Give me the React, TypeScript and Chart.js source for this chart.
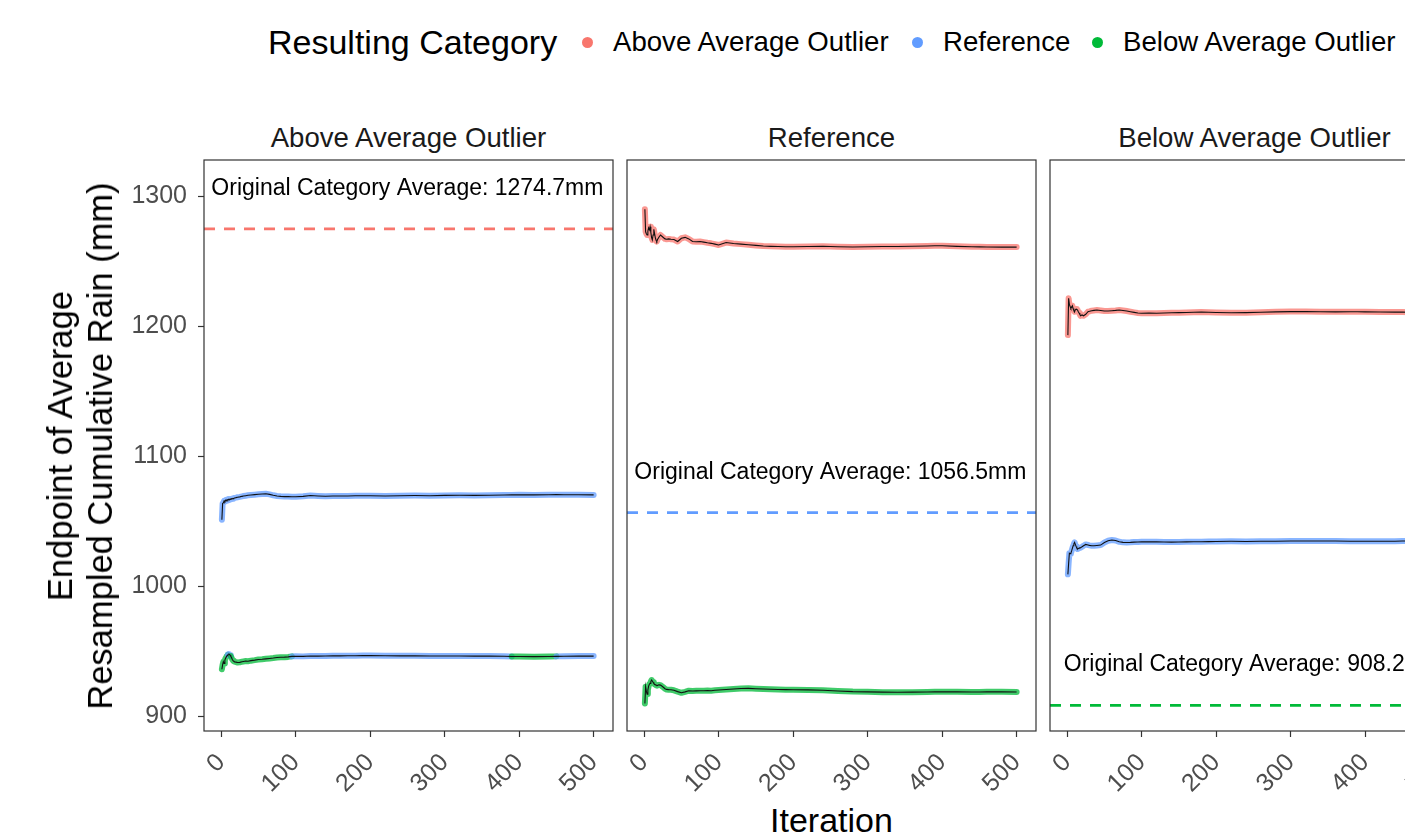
import React, { useEffect, useRef } from "react";
import { Chart, registerables } from "chart.js";

Chart.register(...registerables);

const FONT = '"Liberation Sans", Arial, Helvetica, sans-serif';

// ---------- data ----------
const CATEGORIES = ["Above Average Outlier", "Reference", "Below Average Outlier"];
const CATEGORY_COLORS = ["#F8766D", "#619CFF", "#00BA38"];
const CATEGORY_AVERAGES = [1274.7, 1056.5, 908.2];
const X_TICKS = [0, 100, 200, 300, 400, 500];
const Y_TICKS = [900, 1000, 1100, 1200, 1300];

const ITERATIONS = [
  1, 2, 3, 4, 5, 6, 7, 8, 9, 10, 11, 12, 13, 14, 15, 16, 17, 18, 20, 22, 25, 28, 30, 33, 36, 40, 45,
  50, 55, 60, 65, 70, 75, 80, 85, 90, 95, 100, 110, 120, 130, 140, 150, 160, 170, 180, 190, 200,
  220, 240, 260, 280, 300, 320, 340, 360, 380, 390, 400, 420, 440, 450, 460, 480, 500,
];

// Facet "Above Average Outlier"
const P1_UPPER = [
  1051, 1063.6, 1064, 1065.5, 1064.8, 1066, 1065.5, 1066.5, 1066, 1066.8, 1066.3, 1067, 1066.8,
  1067.2, 1067, 1067.5, 1067.3, 1067.8, 1068, 1068.3, 1068.6, 1069, 1069.2, 1069.5, 1069.8, 1070,
  1070.3, 1070.6, 1070.8, 1071, 1070.5, 1069.8, 1069.3, 1069, 1068.8, 1068.9, 1068.7, 1068.7, 1069,
  1069.6, 1069.3, 1069.1, 1069.2, 1069.3, 1069.2, 1069.4, 1069.5, 1069.4, 1069.3, 1069.5, 1069.6,
  1069.5, 1069.7, 1069.8, 1069.7, 1069.8, 1070, 1070.1, 1070.2, 1070.1, 1070.2, 1070.3, 1070.2,
  1070.2, 1070.1,
];
const P1_UPPER_CAT = 1;
const P1_LOWER = [
  936, 939.5, 941.8, 940.5, 943, 944.5, 945.5, 946.5, 947.2, 947.7, 947.5, 946.8, 946, 944.8, 943.5,
  942.6, 942.1, 941.8, 941.5, 941.2, 941.3, 941.8, 942, 942.3, 942.2, 942.6, 943, 943.5, 943.7, 944,
  944.3, 944.6, 945, 945.2, 945.3, 945.5, 945.9, 946, 945.9, 946.2, 946.1, 946.2, 946.3, 946.3,
  946.4, 946.4, 946.5, 946.5, 946.4, 946.3, 946.3, 946.2, 946.2, 946.2, 946.1, 946.1, 946, 945.8,
  945.8, 945.7, 945.8, 945.9, 946, 946.1, 946.1,
];
const P1_LOWER_CATS = [
  2, 2, 2, 2, 2, 2, 2, 2, 1, 1, 1, 1, 2, 2, 2, 2, 2, 2, 2, 2, 2, 2, 2, 2, 2, 2, 2, 2, 2, 2, 2, 2, 2,
  2, 2, 2, 1, 1, 1, 1, 1, 1, 1, 1, 1, 1, 1, 1, 1, 1, 1, 1, 1, 1, 1, 1, 1, 2, 2, 2, 2, 1, 1, 1, 1,
];

// Facet "Reference"
const P2_UPPER = [
  1289.8, 1272.5, 1271, 1270, 1273, 1275.5, 1274, 1276.4, 1272, 1268, 1266.2, 1270, 1274.4, 1271,
  1268, 1266, 1265, 1266.5, 1268.5, 1270, 1268.5, 1267, 1266.8, 1267, 1266.7, 1266.5, 1265, 1267.5,
  1268.2, 1267, 1265, 1264.8, 1265, 1264.5, 1264, 1263.6, 1263, 1262.3, 1264.2, 1263.5, 1263,
  1262.5, 1262, 1261.5, 1261.3, 1261.2, 1261, 1261, 1261.2, 1261.4, 1261, 1260.8, 1261, 1261.2,
  1261.2, 1261.4, 1261.6, 1261.8, 1261.7, 1261.3, 1261, 1260.9, 1260.8, 1260.7, 1260.7,
];
const P2_UPPER_CAT = 0;
const P2_LOWER = [
  909.7, 922.6, 919, 916.9, 920, 923, 924.5, 925.1, 926.5, 927.7, 927, 926, 925, 924.5, 924, 923.8,
  923.5, 923.6, 924, 923.8, 922.5, 921, 920.5, 920.3, 920.2, 919.8, 918.8, 917.9, 918.6, 919.5,
  919.3, 919.4, 919.5, 919.5, 919.6, 919.5, 919.8, 920, 920.4, 920.8, 921.2, 921.3, 921, 920.8,
  920.6, 920.4, 920.3, 920.2, 920.1, 919.8, 919.3, 918.8, 918.6, 918.4, 918.3, 918.4, 918.5, 918.6,
  918.7, 918.6, 918.5, 918.5, 918.6, 918.6, 918.5,
];
const P2_LOWER_CAT = 2;

// Facet "Below Average Outlier"
const P3_UPPER = [
  1193, 1221.3, 1216.7, 1215, 1213.6, 1214.5, 1215.6, 1213.5, 1212, 1211, 1212.5, 1213, 1212.8,
  1212.3, 1211, 1210, 1209, 1207.9, 1208.5, 1207.9, 1209, 1211, 1211.3, 1211.8, 1212, 1212.3, 1212,
  1211.5, 1211.5, 1211.8, 1212, 1212.3, 1212, 1211.5, 1211, 1210.5, 1210, 1209.8, 1209.9, 1209.8,
  1210, 1210.2, 1210.3, 1210.4, 1210.6, 1210.7, 1210.6, 1210.4, 1210.2, 1210.3, 1210.6, 1210.9,
  1211.1, 1211.2, 1211, 1210.9, 1211, 1211, 1210.9, 1210.8, 1210.7, 1210.7, 1210.6, 1210.5, 1210.4,
];
const P3_UPPER_CAT = 0;
const P3_LOWER = [
  1009, 1017.4, 1025.2, 1024.8, 1025.2, 1027, 1029, 1031, 1032.5, 1033.6, 1032, 1030.5, 1029.2,
  1028.5, 1028.8, 1029.2, 1029.5, 1029.5, 1030.2, 1031, 1032, 1031.6, 1031.3, 1031, 1031, 1031.2,
  1031.5, 1033.5, 1034.8, 1035.4, 1035, 1034, 1033.6, 1033.5, 1033.6, 1033.8, 1033.9, 1034, 1034,
  1034, 1033.9, 1033.8, 1033.9, 1034, 1034.1, 1034.1, 1034.2, 1034.3, 1034.4, 1034.3, 1034.4,
  1034.5, 1034.6, 1034.7, 1034.7, 1034.6, 1034.5, 1034.5, 1034.5, 1034.4, 1034.5, 1034.6, 1034.6,
  1034.6, 1034.6,
];
const P3_LOWER_CAT = 1;

// ---------- layout ----------
const X_MIN = -23;
const X_MAX = 526;
const Y_MIN = 888.5;
const Y_MAX = 1327.7;
const PANEL_LEFT = [204, 627, 1050];
const PANEL_W = 409;
const CANVAS_TOP = 100;
const CANVAS_H = 700;
const PLOT_TOP_PAD = 60;
const X_AXIS_H = 69;
const Y_AXIS_W = 204;
const SIDE_PAD = 12;
const RIGHT_PAD = 14;

type Series = { values: number[]; cats: number[] | number };
const PANELS: { facet: number; series: Series[] }[] = [
  { facet: 0, series: [{ values: P1_UPPER, cats: P1_UPPER_CAT }, { values: P1_LOWER, cats: P1_LOWER_CATS }] },
  { facet: 1, series: [{ values: P2_UPPER, cats: P2_UPPER_CAT }, { values: P2_LOWER, cats: P2_LOWER_CAT }] },
  { facet: 2, series: [{ values: P3_UPPER, cats: P3_UPPER_CAT }, { values: P3_LOWER, cats: P3_LOWER_CAT }] },
];

function rgba(hex: string, a: number) {
  const n = parseInt(hex.slice(1), 16);
  return `rgba(${(n >> 16) & 255},${(n >> 8) & 255},${n & 255},${a})`;
}

const framePlugin = {
  id: "frame",
  afterDraw(chart: any) {
    const { ctx, chartArea } = chart;
    ctx.save();
    ctx.strokeStyle = "#333333";
    ctx.lineWidth = 1.2;
    ctx.strokeRect(chartArea.left, chartArea.top, chartArea.right - chartArea.left, chartArea.bottom - chartArea.top);
    ctx.restore();
  },
};

function makeAnnotationPlugin(facet: number) {
  return {
    id: "avgLabel",
    afterDatasetsDraw(chart: any) {
      const { ctx, chartArea, scales } = chart;
      ctx.save();
      ctx.beginPath();
      ctx.rect(chartArea.left, chartArea.top, chartArea.right - chartArea.left, chartArea.bottom - chartArea.top);
      ctx.clip();
      ctx.fillStyle = "#000";
      ctx.font = `23px ${FONT}`;
      ctx.textAlign = "center";
      ctx.textBaseline = "middle";
      const avg = CATEGORY_AVERAGES[facet];
      ctx.fillText(
        `Original Category Average: ${avg.toFixed(1)}mm`,
        scales.x.getPixelForValue(250),
        scales.y.getPixelForValue(avg + 31)
      );
      ctx.restore();
    },
  };
}

function zeroPadding(s: any) {
  s.paddingLeft = 0;
  s.paddingRight = 0;
  s.paddingTop = 0;
  s.paddingBottom = 0;
}

function buildConfig(p: number): any {
  const panel = PANELS[p];
  const datasets: any[] = [];
  panel.series.forEach((s) => {
    const pts = ITERATIONS.map((x, i) => ({ x, y: s.values[i] }));
    const catAt = (i: number) => (Array.isArray(s.cats) ? s.cats[i] : s.cats);
    datasets.push({
      data: pts,
      borderColor: "#111111",
      borderWidth: 1.1,
      pointRadius: 0,
      order: 0,
    });
    datasets.push({
      data: pts,
      borderColor: rgba(CATEGORY_COLORS[catAt(0)], 0.75),
      borderWidth: 6,
      borderCapStyle: "round",
      borderJoinStyle: "round",
      pointRadius: 0,
      order: 1,
      segment: {
        borderColor: (ctx: any) => rgba(CATEGORY_COLORS[catAt(ctx.p0DataIndex)], 0.75),
      },
    });
  });
  const avg = CATEGORY_AVERAGES[panel.facet];
  datasets.push({
    data: [
      { x: X_MIN, y: avg },
      { x: X_MAX, y: avg },
    ],
    borderColor: CATEGORY_COLORS[panel.facet],
    borderWidth: 2.6,
    borderDash: [11, 9],
    pointRadius: 0,
    order: 2,
  });

  const first = p === 0;
  return {
    type: "line",
    data: { datasets },
    options: {
      animation: false,
      responsive: false,
      maintainAspectRatio: false,
      events: [],
      layout: {
        autoPadding: false,
        padding: { left: first ? 0 : SIDE_PAD, right: RIGHT_PAD, top: PLOT_TOP_PAD, bottom: 0 },
      },
      plugins: {
        legend: { display: false },
        title: { display: false },
        tooltip: { enabled: false },
      },
      scales: {
        x: {
          type: "linear",
          min: X_MIN,
          max: X_MAX,
          afterFit: (s: any) => {
            s.height = X_AXIS_H;
            zeroPadding(s);
          },
          afterBuildTicks: (s: any) => {
            s.ticks = X_TICKS.map((value) => ({ value }));
          },
          ticks: {
            autoSkip: false,
            minRotation: 45,
            maxRotation: 45,
            color: "#4D4D4D",
            font: { family: FONT, size: 25 },
            padding: 11,
            callback: (v: any) => String(v),
          },
          grid: {
            drawOnChartArea: false,
            drawTicks: true,
            tickLength: 6,
            tickColor: "#333333",
            tickWidth: 1.2,
          },
          border: { display: false },
        },
        y: {
          type: "linear",
          display: first,
          min: Y_MIN,
          max: Y_MAX,
          afterFit: (s: any) => {
            s.width = first ? Y_AXIS_W : 0;
            zeroPadding(s);
          },
          afterBuildTicks: (s: any) => {
            s.ticks = Y_TICKS.map((value) => ({ value }));
          },
          ticks: {
            color: "#4D4D4D",
            font: { family: FONT, size: 25 },
            padding: 11,
            callback: (v: any) => String(v),
          },
          grid: {
            drawOnChartArea: false,
            drawTicks: true,
            tickLength: 6,
            tickColor: "#333333",
            tickWidth: 1.2,
          },
          border: { display: false },
        },
      },
    },
    plugins: [framePlugin, makeAnnotationPlugin(panel.facet)],
  };
}

function Panel({ index }: { index: number }) {
  const ref = useRef<HTMLCanvasElement>(null);
  const left = index === 0 ? 0 : PANEL_LEFT[index] - SIDE_PAD;
  const width = (index === 0 ? Y_AXIS_W : SIDE_PAD) + PANEL_W + RIGHT_PAD;
  useEffect(() => {
    const chart = new Chart(ref.current as HTMLCanvasElement, buildConfig(index));
    return () => chart.destroy();
  }, [index]);
  return (
    <canvas
      ref={ref}
      width={width}
      height={CANVAS_H}
      style={{ position: "absolute", left, top: CANVAS_TOP, width, height: CANVAS_H }}
    />
  );
}

const LEGEND_ITEMS = [
  { dot: 587, text: 613 },
  { dot: 917, text: 943 },
  { dot: 1097, text: 1123 },
];

export default function App() {
  return (
    <div
      style={{
        position: "absolute",
        left: 0,
        top: 0,
        width: 1405,
        height: 835,
        overflow: "hidden",
        background: "#fff",
        fontFamily: FONT,
      }}
    >
      {/* legend */}
      <div style={{ position: "absolute", left: 268, top: 22, height: 40, lineHeight: "40px", fontSize: 34, color: "#000", whiteSpace: "nowrap" }}>
        Resulting Category
      </div>
      {CATEGORIES.map((c, i) => (
        <React.Fragment key={c}>
          <div
            style={{
              position: "absolute",
              left: LEGEND_ITEMS[i].dot - 5.5,
              top: 42 - 5.5,
              width: 11,
              height: 11,
              borderRadius: "50%",
              background: CATEGORY_COLORS[i],
            }}
          />
          <div
            style={{
              position: "absolute",
              left: LEGEND_ITEMS[i].text,
              top: 22,
              height: 40,
              lineHeight: "40px",
              fontSize: 27.6,
              color: "#000",
              whiteSpace: "nowrap",
            }}
          >
            {c}
          </div>
        </React.Fragment>
      ))}

      {/* strip labels */}
      {PANELS.map((p, i) => (
        <div
          key={i}
          style={{
            position: "absolute",
            left: PANEL_LEFT[i],
            width: PANEL_W,
            top: 118,
            height: 40,
            lineHeight: "40px",
            textAlign: "center",
            fontSize: 27.6,
            color: "#1A1A1A",
            whiteSpace: "nowrap",
          }}
        >
          {CATEGORIES[p.facet]}
        </div>
      ))}

      {PANELS.map((_, i) => (
        <Panel key={i} index={i} />
      ))}

      {/* axis titles */}
      <div
        style={{
          position: "absolute",
          left: PANEL_LEFT[0],
          width: PANEL_LEFT[2] + PANEL_W - PANEL_LEFT[0],
          top: 800,
          height: 40,
          lineHeight: "40px",
          textAlign: "center",
          fontSize: 34,
          color: "#000",
        }}
      >
        Iteration
      </div>
      <div
        style={{
          position: "absolute",
          left: 80,
          top: 445.5,
          transform: "translate(-50%, -50%) rotate(-90deg)",
          textAlign: "center",
          whiteSpace: "nowrap",
          fontSize: 34.5,
          lineHeight: "40px",
          color: "#000",
        }}
      >
        Endpoint of Average
        <br />
        Resampled Cumulative Rain (mm)
      </div>
    </div>
  );
}
